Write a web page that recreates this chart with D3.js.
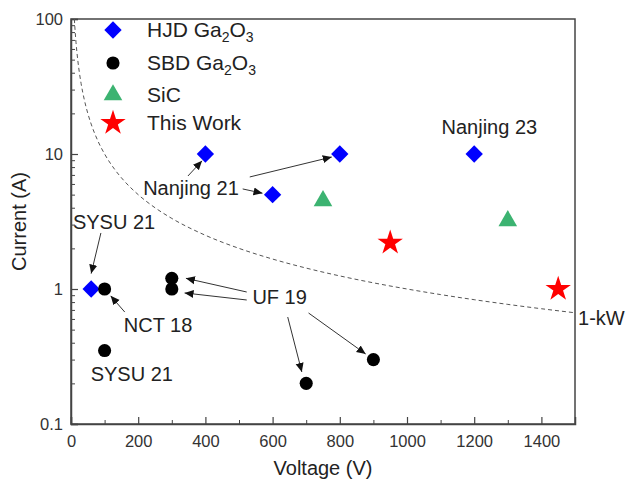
<!DOCTYPE html>
<html>
<head>
<meta charset="utf-8">
<script src="https://cdn.jsdelivr.net/npm/d3@7"></script>
<style>
    body { margin: 0; background: #fff; }
    svg { font-family: "Liberation Sans", Arial, sans-serif; }
    .axis path, .axis line { stroke: #444; }
    .axis text { fill: #333; font-size: 16.5px; }
</style>
</head>
<body>
<div id="chart"></div>
<script>
// series values: [voltage (V), current (A)]
var hjdGa2O3 = [[60, 1], [400, 10], [600, 5], [800, 10], [1200, 10]];
var sbdGa2O3 = [[100, 1], [300, 1.2], [300, 1], [100, 0.35], [700, 0.2], [900, 0.3]];
var sic = [[750, 4.5], [1300, 3.2]];
var thisWork = [[950, 2.2], [1450, 1]];

var seriesNames = ["HJD Ga2O3", "SBD Ga2O3", "SiC", "This Work"];
var xTicks = [0, 200, 400, 600, 800, 1000, 1200, 1400];
var yTicks = [0.1, 1, 10, 100];

// 1-kW power line: I = 1000 / V
var powerLineVoltages = [10, 12, 15, 20, 25, 30, 40, 50, 60, 80, 100, 130, 160, 200, 250, 300, 400, 500, 600, 700, 800, 900, 1000, 1100, 1200, 1300, 1400, 1500];

// annotations: label text, label centre [V, I], arrows [[fromV, fromI], [toV, toI]]
var annotLabels = ["Nanjing 23", "Nanjing 21", "SYSU 21", "NCT 18", "UF 19", "SYSU 21"];
var annotPos = [[1245, 15.8], [357, 5.6], [128, 3.13], [259, 0.54], [621, 0.873], [181, 0.235]];
var annotArrows = [
    [],
    [[[348, 6.87], [390, 8.9]], [[532, 6.76], [776, 9.5]], [[511, 5.51], [570, 5.12]]],
    [[[89, 2.6], [60, 1.3]]],
    [[[160, 0.675], [118, 0.89]]],
    [[[523, 0.95], [342, 1.2]], [[523, 0.829], [338, 0.935]], [[645, 0.62], [687, 0.243]], [[707, 0.664], [877, 0.33]]],
    []
];

var margin = {top: 19, right: 51, bottom: 60, left: 71};
var svgWidth = 626;
var svgHeight = 484;
var width = svgWidth - margin.left - margin.right;
var height = svgHeight - margin.top - margin.bottom;

var x = d3.scaleLinear().domain([0, 1500]).range([0, width]);
var y = d3.scaleLog().domain([0.1, 100]).range([height, 0]);

var svg = d3.select("#chart").append("svg")
    .attr("width", svgWidth)
    .attr("height", svgHeight);

svg.append("defs").append("marker")
    .attr("id", "arrow")
    .attr("viewBox", "0 0 10 10")
    .attr("refX", 10)
    .attr("refY", 5)
    .attr("markerWidth", 9)
    .attr("markerHeight", 9)
    .attr("markerUnits", "userSpaceOnUse")
    .attr("orient", "auto")
    .append("path")
    .attr("d", "M0,0.5L10,5L0,9.5z")
    .attr("fill", "#111");

var g = svg.append("g").attr("transform", "translate(" + margin.left + "," + margin.top + ")");

// frame
g.append("rect")
    .attr("width", width)
    .attr("height", height)
    .attr("fill", "none")
    .attr("stroke", "#444")
    .attr("stroke-width", 1.5);

// x axis: major + minor ticks pointing inward
g.append("g")
    .attr("class", "axis")
    .attr("transform", "translate(0," + height + ")")
    .call(d3.axisBottom(x).tickValues(d3.range(100, 1500, 200)).tickSize(-4).tickFormat(""))
    .call(function (a) { a.select(".domain").remove(); });
g.append("g")
    .attr("class", "axis")
    .attr("transform", "translate(0," + height + ")")
    .call(d3.axisBottom(x).tickValues(xTicks).tickSize(-7).tickPadding(11).tickFormat(d3.format("d")))
    .call(function (a) {
        a.select(".domain").attr("stroke-width", 1.5);
        a.selectAll("line").attr("stroke-width", 1.2);
    });

// y axis
var yMinor = [];
[0.1, 1, 10].forEach(function (dec) {
    d3.range(2, 10).forEach(function (m) { yMinor.push(dec * m); });
});
g.append("g")
    .attr("class", "axis")
    .call(d3.axisLeft(y).tickValues(yMinor).tickSize(-4).tickFormat(""))
    .call(function (a) { a.select(".domain").remove(); });
g.append("g")
    .attr("class", "axis")
    .call(d3.axisLeft(y).tickValues(yTicks).tickSize(-7).tickPadding(8).tickFormat(function (d) { return String(d); }))
    .call(function (a) {
        a.select(".domain").attr("stroke-width", 1.5);
        a.selectAll("line").attr("stroke-width", 1.2);
    });

// axis titles
svg.append("text")
    .attr("x", margin.left + width / 2)
    .attr("y", 475)
    .attr("text-anchor", "middle")
    .attr("font-size", 20)
    .attr("fill", "#222")
    .text("Voltage (V)");
svg.append("text")
    .attr("transform", "translate(26," + (margin.top + height / 2) + ") rotate(-90)")
    .attr("text-anchor", "middle")
    .attr("font-size", 20)
    .attr("fill", "#222")
    .text("Current (A)");

// 1-kW line
var line = d3.line()
    .x(function (v) { return x(v); })
    .y(function (v) { return y(1000 / v); });
g.append("path")
    .datum(powerLineVoltages)
    .attr("d", line.curve(d3.curveMonotoneX))
    .attr("fill", "none")
    .attr("stroke", "#555")
    .attr("stroke-width", 1)
    .attr("stroke-dasharray", "4,3");
g.append("text")
    .attr("x", x(1509))
    .attr("y", y(0.61))
    .attr("dy", "0.35em")
    .attr("font-size", 20)
    .attr("fill", "#222")
    .text("1-kW");

// annotations
annotLabels.forEach(function (label, i) {
    g.append("text")
        .attr("x", x(annotPos[i][0]))
        .attr("y", y(annotPos[i][1]))
        .attr("dy", "0.35em")
        .attr("text-anchor", "middle")
        .attr("font-size", 20)
        .attr("fill", "#222")
        .text(label);
    annotArrows[i].forEach(function (arr) {
        g.append("line")
            .attr("x1", x(arr[0][0]))
            .attr("y1", y(arr[0][1]))
            .attr("x2", x(arr[1][0]))
            .attr("y2", y(arr[1][1]))
            .attr("stroke", "#333")
            .attr("stroke-width", 1)
            .attr("marker-end", "url(#arrow)");
    });
});

// markers
var styles = [
    {type: d3.symbolSquare, size: 150, fill: "#0000ff", rotate: 45},
    {type: d3.symbolCircle, size: 135, fill: "#000000", rotate: 0},
    {type: d3.symbolTriangle, size: 150, fill: "#3cb371", rotate: 0},
    {type: d3.symbolStar, size: 200, fill: "#ff0000", rotate: 0}
];
var allSeries = [hjdGa2O3, sbdGa2O3, sic, thisWork];

allSeries.forEach(function (data, i) {
    var st = styles[i];
    g.selectAll(".pt" + i)
        .data(data)
        .enter()
        .append("path")
        .attr("class", "pt" + i)
        .attr("d", d3.symbol().type(st.type).size(st.size))
        .attr("fill", st.fill)
        .attr("transform", function (d) {
            return "translate(" + x(d[0]) + "," + y(d[1]) + ") rotate(" + st.rotate + ")";
        });
});

// legend
var legend = svg.append("g").attr("transform", "translate(113,30)");
var rowGap = [0, 33, 65, 93];
seriesNames.forEach(function (name, i) {
    var st = styles[i];
    var row = legend.append("g").attr("transform", "translate(0," + rowGap[i] + ")");
    row.append("path")
        .attr("d", d3.symbol().type(st.type).size(st.size))
        .attr("fill", st.fill)
        .attr("transform", "rotate(" + st.rotate + ")");
    var t = row.append("text")
        .attr("x", 34)
        .attr("dy", "0.35em")
        .attr("font-size", 21)
        .attr("fill", "#222");
    var m = name.match(/^(.*Ga)2O3$/);
    if (m) {
        t.append("tspan").text(m[1]);
        t.append("tspan").attr("font-size", 14).attr("dy", 5).text("2");
        t.append("tspan").attr("dy", -5).text("O");
        t.append("tspan").attr("font-size", 14).attr("dy", 5).text("3");
    } else {
        t.text(name);
    }
});
</script>
</body>
</html>
